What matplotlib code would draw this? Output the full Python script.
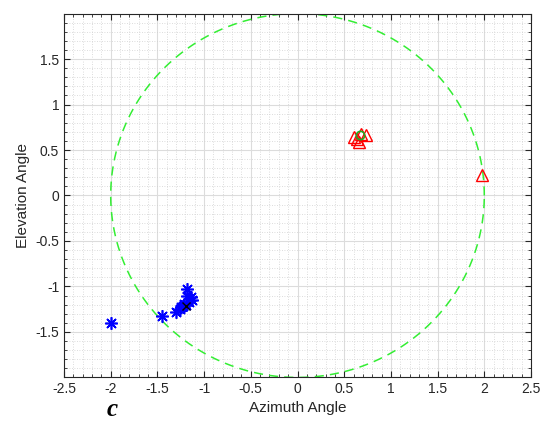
import numpy as np
import matplotlib
matplotlib.use('Agg')
import matplotlib.pyplot as plt
from matplotlib.ticker import MultipleLocator

plt.rcParams['font.family'] = ['Liberation Sans', 'DejaVu Sans']

# blue asterisks (source estimates)
blue_az = [-2.0, -1.45, -1.18, -1.18, -1.30, -1.26, -1.23, -1.19, -1.16, -1.13, -1.14, -1.21, -1.25]
blue_el = [-1.40, -1.32, -1.03, -1.11, -1.28, -1.25, -1.22, -1.20, -1.17, -1.15, -1.12, -1.19, -1.23]
# black cross (mean of blue cluster)
black_az = [-1.19]
black_el = [-1.21]
# red triangles
red_az = [0.61, 0.68, 0.73, 0.66, 0.64, 1.98]
red_el = [0.64, 0.68, 0.66, 0.59, 0.62, 0.23]
# green circle (mean of red cluster)
green_az = [0.67]
green_el = [0.67]
radius = 2.0

fig = plt.figure(figsize=(5.4, 4.23), dpi=100)
ax = fig.add_axes([64/540, 1-377/423, (531-64)/540, (377-14)/423])

t = np.linspace(0, 2*np.pi, 400)
ax.plot(radius*np.cos(t), radius*np.sin(t), '--', color='#33ee33', lw=1.1, dashes=(6, 4))

ax.plot(blue_az, blue_el, marker=(8, 2, 0), color='#0000ff', ms=9, mew=1.2, linestyle='none')
ax.plot(black_az, black_el, 'x', color='black', ms=6, mew=1.0, linestyle='none')
ax.plot(red_az, red_el, '^', mfc='none', mec='#ff0000', ms=8, mew=1.0, linestyle='none')
ax.plot(green_az, green_el, 'o', mfc='none', mec='#22aa22', ms=6, mew=1.2, linestyle='none')

ax.set_xlim(-2.5, 2.5)
ax.set_ylim(-1.995, 1.995)
ax.set_xticks(np.arange(-2.5, 2.51, 0.5))
ax.set_xticklabels(['-2.5', '-2', '-1.5', '-1', '-0.5', '0', '0.5', '1', '1.5', '2', '2.5'])
ax.set_yticks(np.arange(-1.5, 1.51, 0.5))
ax.set_yticklabels(['-1.5', '-1', '-0.5', '0', '0.5', '1', '1.5'])
ax.xaxis.set_minor_locator(MultipleLocator(0.1))
ax.yaxis.set_minor_locator(MultipleLocator(0.1))

ax.grid(which='major', color='#dcdcdc', lw=0.8)
ax.grid(which='minor', color='#d0d0d0', lw=0.6, linestyle=(0, (1, 2)))
ax.set_axisbelow(True)

ax.tick_params(which='both', direction='in', top=True, right=True, colors='#262626', labelsize=10)
ax.tick_params(which='major', length=4)
ax.tick_params(which='minor', length=2)
for s in ax.spines.values():
    s.set_color('#262626')
    s.set_linewidth(0.8)

ax.set_xlabel('Azimuth Angle', fontsize=11, color='#262626', labelpad=4)
ax.set_ylabel('Elevation Angle', fontsize=11, color='#262626', labelpad=4)

fig.text(112/540, 1-421/423, 'c', fontsize=18, fontstyle='italic', fontweight='bold',
         family='Liberation Serif', ha='center', va='bottom', color='black')

fig.savefig('out.png', dpi=100)
